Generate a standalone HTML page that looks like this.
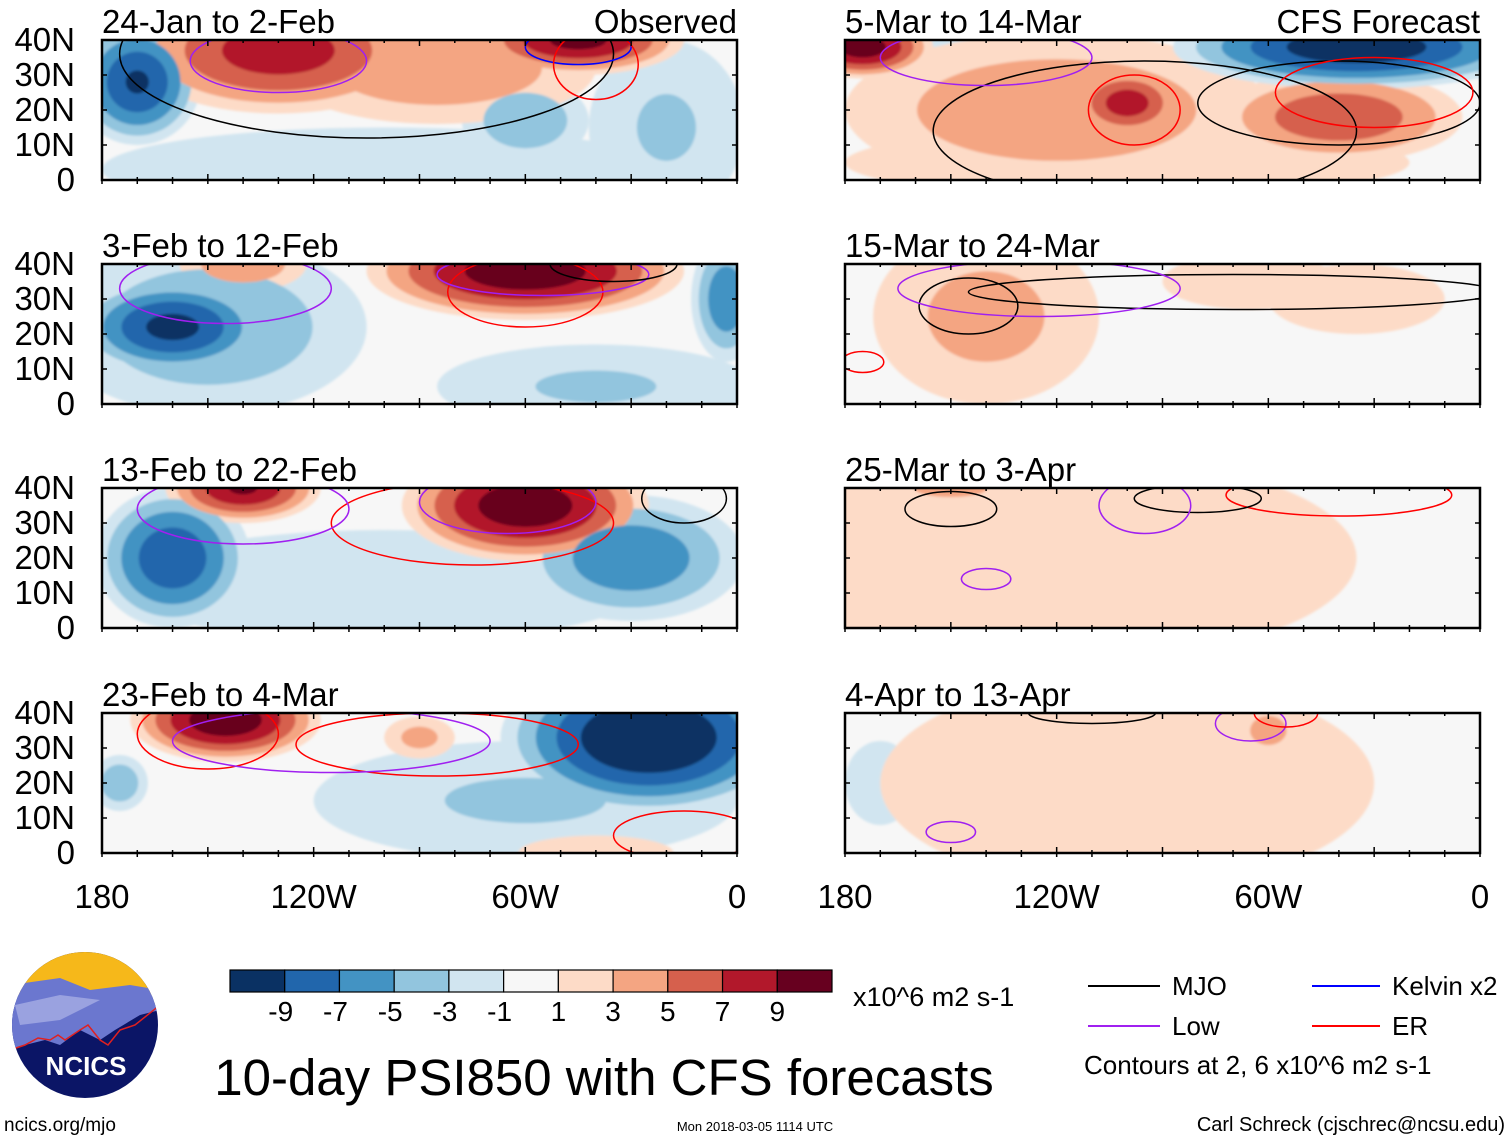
<!DOCTYPE html>
<html><head><meta charset="utf-8"><style>
body{margin:0;background:#fff;}
svg{display:block;font-family:"Liberation Sans",sans-serif;}
</style></head><body>
<svg id="fig" width="1510" height="1141" viewBox="0 0 1510 1141">
<defs>
<filter id="soft"><feGaussianBlur stdDeviation="1.2"/></filter>
</defs>
<g id="panels"></g>
<g id="axes"></g>

<g>
<clipPath id="logoclip"><circle cx="85" cy="1025" r="73"/></clipPath>
<g clip-path="url(#logoclip)">
<rect x="10" y="950" width="150" height="150" fill="#0b1566"/>
<rect x="10" y="950" width="150" height="45" fill="#f6b81a"/>
<path d="M10 985 L60 978 L90 990 L130 985 L160 990 L160 1010 L140 1015 L115 1030 L100 1040 L80 1030 L60 1045 L45 1040 L25 1045 L10 1050 Z" fill="#6b77cf"/>
<path d="M15 1005 L60 995 L100 1000 L60 1020 L20 1025 Z" fill="#9aa2e0"/>
<path d="M10 1050 L25 1045 L38 1038 L50 1040 L58 1035 L65 1040 L80 1030 L88 1025 L100 1040 L108 1045 L120 1030 L135 1025 L160 1005" fill="none" stroke="#e02020" stroke-width="1.5"/>
</g>
<text x="86" y="1075" font-size="26" font-weight="bold" fill="#fff" text-anchor="middle">NCICS</text>
</g>
<text x="4" y="1131" font-size="19" fill="#000">ncics.org/mjo</text>

<g id="cbar"></g>
<text x="853" y="1006" font-size="27" fill="#000">x10^6 m2 s-1</text>
<text x="604" y="1095" font-size="51" fill="#000" text-anchor="middle">10-day PSI850 with CFS forecasts</text>
<text x="755" y="1131" font-size="13" fill="#000" text-anchor="middle">Mon 2018-03-05 1114 UTC</text>
<text x="1505" y="1131" font-size="20" fill="#000" text-anchor="end">Carl Schreck (cjschrec@ncsu.edu)</text>

<g>
<line x1="1088" y1="986" x2="1160" y2="986" stroke="#000" stroke-width="2"/>
<text x="1172" y="995" font-size="26">MJO</text>
<line x1="1088" y1="1026" x2="1160" y2="1026" stroke="#a020f0" stroke-width="2"/>
<text x="1172" y="1035" font-size="26">Low</text>
<line x1="1312" y1="986" x2="1380" y2="986" stroke="#0000ff" stroke-width="2"/>
<text x="1392" y="995" font-size="26">Kelvin x2</text>
<line x1="1312" y1="1026" x2="1380" y2="1026" stroke="#ff0000" stroke-width="2"/>
<text x="1392" y="1035" font-size="26">ER</text>
<text x="1084" y="1074" font-size="26">Contours at 2, 6 x10^6 m2 s-1</text>
</g>
</svg>
<script>
// ---- data ----
const colors = ["#0a3163","#2166ac","#4393c3","#92c5de","#d1e5f0","#f7f7f7","#fddbc7","#f4a582","#d6604d","#b2182b","#67001f"];
const cbarTicks = ["-9","-7","-5","-3","-1","1","3","5","7","9"];
const latTicks = ["0","10N","20N","30N","40N"];
const latVals = [0,10,20,30,40];
const lonTicks = ["180","120W","60W","0"];
const lonVals = [180,120,60,0];
const titles = ["24-Jan to 2-Feb","3-Feb to 12-Feb","13-Feb to 22-Feb","23-Feb to 4-Mar","5-Mar to 14-Mar","15-Mar to 24-Mar","25-Mar to 3-Apr","4-Apr to 13-Apr"];
// blobs: [lonW, lat, rxDeg, ryDeg, amplitude]
const blobs0 = [[100,3,80,12,-2.5],[20,15,22,25,-3.5],[60,17,18,12,-5],[170,28,18,18,-9.5],[85,32,45,16,5],[130,37,42,18,8.5],[45,40,30,10,10]];
const blobs1 = [[40,5,45,12,-3.5],[150,22,45,25,-5],[160,22,28,14,-10],[3,30,10,18,-7],[140,40,18,8,5],[60,38,45,14,11]];
const blobs2 = [[100,12,75,16,-2.5],[30,20,32,18,-7],[160,20,22,20,-9],[140,40,22,10,9.5],[60,35,35,16,11]];
const blobs3 = [[60,15,60,17,-3.5],[175,20,8,8,-5],[25,33,42,22,-12],[40,0,22,5,2],[90,33,10,6,4],[145,38,27,12,11]];
const blobs4 = [[100,5,80,10,2],[150,34,12,10,-3],[120,20,60,22,5],[100,22,16,10,8.5],[40,18,35,13,7],[35,38,52,12,-11],[175,38,20,9,10.5]];
const blobs5 = [[140,25,32,25,4],[65,35,25,8,3],[35,30,25,10,3]];
const blobs6 = [[120,20,85,30,2.2],[150,40,20,5,4]];
const blobs7 = [[170,20,10,12,-2],[100,20,70,30,2.2],[60,35,10,8,4]];
const blobSets = [blobs0,blobs1,blobs2,blobs3,blobs4,blobs5,blobs6,blobs7];
// contour lines: [lonW, lat, rxDeg, ryDeg, color]
const lines0 = [[105,36,70,24,"#000"],[130,34,25,9,"#a020f0"],[45,38,15,5,"#0000ff"],[40,33,12,10,"#ff0000"]];
const lines1 = [[60,32,22,10,"#ff0000"],[145,33,30,10,"#a020f0"],[55,37,30,6,"#a020f0"],[35,40,18,5,"#000"]];
const lines2 = [[75,30,40,12,"#ff0000"],[140,34,30,10,"#a020f0"],[65,36,25,9,"#a020f0"],[15,37,12,7,"#000"]];
const lines3 = [[150,34,20,10,"#ff0000"],[85,31,40,9,"#ff0000"],[115,32,45,9,"#a020f0"],[15,5,20,7,"#ff0000"]];
const lines4 = [[98,20,13,10,"#ff0000"],[95,14,60,20,"#000"],[40,22,40,12,"#000"],[30,25,28,10,"#ff0000"],[140,35,30,8,"#a020f0"]];
const lines5 = [[145,28,14,8,"#000"],[70,32,75,5,"#000"],[175,12,6,3,"#ff0000"],[125,33,40,8,"#a020f0"]];
const lines6 = [[150,34,13,5,"#000"],[140,14,7,3,"#a020f0"],[40,38,32,6,"#ff0000"],[80,37,18,4,"#000"],[95,35,13,8,"#a020f0"]];
const lines7 = [[150,6,7,3,"#a020f0"],[65,37,10,5,"#a020f0"],[55,40,9,4,"#ff0000"],[110,40,18,3,"#000"]];
const lineSets = [lines0,lines1,lines2,lines3,lines4,lines5,lines6,lines7];

// ---- layout ----
const NS="http://www.w3.org/2000/svg";
const PW=635, PH=140;
const lefts=[102,845], tops=[40,264,488,713];
function mk(tag,attrs,parent){const e=document.createElementNS(NS,tag);for(const k in attrs)e.setAttribute(k,attrs[k]);parent.appendChild(e);return e;}
function colorFor(v){let i=Math.floor((v+11)/2);return colors[Math.max(0,Math.min(10,i))];}
const panels=document.getElementById('panels');
const axes=document.getElementById('axes');
for(let p=0;p<8;p++){
  const col=p<4?0:1, row=p%4;
  const x0=lefts[col], y0=tops[row];
  const xs=lon=>x0+(180-lon)/180*PW;
  const ys=lat=>y0+(40-lat)/40*PH;
  const g=mk('g',{},panels);
  
  
  const cp=mk('clipPath',{id:'cp'+p},g); mk('rect',{x:x0,y:y0,width:PW,height:PH},cp);
  const inner=mk('g',{'clip-path':'url(#cp'+p+')'},g);
  mk('rect',{x:x0,y:y0,width:PW,height:PH,fill:colors[5]},inner);
  const levels=[1,3,5,7,9,11];
  const shapes=[];
  blobSets[p].forEach(b=>{const A=Math.abs(b[4]),sg=Math.sign(b[4]);
    levels.forEach(L=>{if(L<A){const s=Math.pow((A-L)/(A-1),0.6);shapes.push([L,b,s,sg]);}});});
  shapes.sort((a,b)=>a[0]-b[0]);
  const fg=mk('g',{filter:'url(#soft)'},inner);
  shapes.forEach(([L,b,s,sg])=>{
    const e=mk('ellipse',{cx:xs(b[0]),cy:ys(b[1]),rx:b[2]/180*PW*s,ry:b[3]/40*PH*s,fill:colorFor(sg*(L+1))},fg);
    
    
  });
  lineSets[p].forEach(l=>{
    const e=mk('ellipse',{cx:xs(l[0]),cy:ys(l[1]),rx:l[2]/180*PW,ry:l[3]/40*PH,fill:'none',stroke:l[4],'stroke-width':1.5},inner);
    
    
  });
  const fr=mk('rect',{x:x0,y:y0,width:PW,height:PH,fill:'none',stroke:'#000','stroke-width':2.5},g);
  
  
  for(let lon=0;lon<=180;lon+=10){const x=xs(lon),big=lon%30==0?6:3;
    mk('line',{x1:x,y1:y0,x2:x,y2:y0+big,stroke:'#000','stroke-width':1.5},g);
    mk('line',{x1:x,y1:y0+PH,x2:x,y2:y0+PH-big,stroke:'#000','stroke-width':1.5},g);
    mk('line',{x1:x,y1:y0+PH,x2:x,y2:y0+PH+4,stroke:'#000','stroke-width':1.5},g);}
  latVals.forEach(v=>{mk('line',{x1:x0,y1:ys(v),x2:x0+5,y2:ys(v),stroke:'#000','stroke-width':1.5},g);
    mk('line',{x1:x0+PW,y1:ys(v),x2:x0+PW-5,y2:ys(v),stroke:'#000','stroke-width':1.5},g);});
  const t=mk('text',{x:x0,y:y0-7,'font-size':33},axes); t.textContent=titles[p];
  
  
  if(p==0||p==4){const t2=mk('text',{x:x0+PW,y:y0-7,'font-size':33,'text-anchor':'end'},axes);t2.textContent=p==0?"Observed":"CFS Forecast";
    
    }
  if(col==0){latVals.forEach((v,i)=>{const lt=mk('text',{x:75,y:ys(v)+11,'font-size':33,'text-anchor':'end'},axes);lt.textContent=latTicks[i];
    
    });}
  if(row==3){lonVals.forEach((v,i)=>{const lt=mk('text',{x:xs(v),y:908,'font-size':33,'text-anchor':'middle'},axes);lt.textContent=lonTicks[i];
    
    });}
}
// colorbar
const cb=document.getElementById('cbar');
const cbx=230,cbw=602/11;
colors.forEach((c,i)=>{const r=mk('rect',{x:cbx+i*cbw,y:970,width:cbw,height:22,fill:c,stroke:'#000','stroke-width':1.2},cb);
  
  });
cbarTicks.forEach((t,i)=>{const e=mk('text',{x:cbx+(i+1)*cbw-(t[0]=='-'?4:0),y:1021,'font-size':28,'text-anchor':'middle'},cb);e.textContent=t;
  
  });
</script>
</body></html>
